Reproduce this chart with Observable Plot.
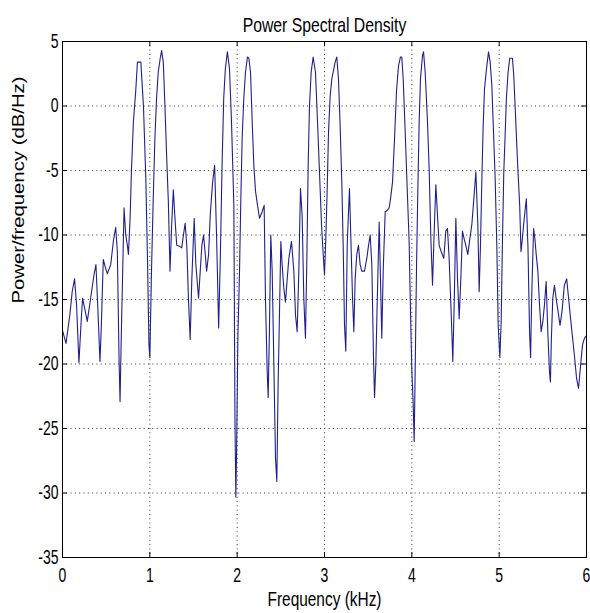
<!DOCTYPE html>
<html><head><meta charset="utf-8">
<script src="https://cdn.jsdelivr.net/npm/d3@7"></script>
<script src="https://cdn.jsdelivr.net/npm/@observablehq/plot@0.6"></script>
<style>
html,body{margin:0;padding:0;background:#fff;}
#chart{width:590px;height:613px;}
</style></head><body><div id="chart"></div>
<script>
// Frequency (kHz) of each traced vertex
const freqKHz = [
  0.000,0.040,0.084,0.111,0.138,0.161,0.188,0.215,0.230,0.284,0.322,0.360,0.383,0.406,0.429,0.444,0.467,0.494,0.513,0.552,
  0.582,0.609,0.628,0.648,0.659,0.674,0.705,0.724,0.743,0.755,0.774,0.789,0.812,0.839,0.858,0.897,0.927,0.954,0.973,0.990,
  1.000,1.019,1.038,1.058,1.077,1.096,1.119,1.135,1.154,1.173,1.192,1.212,1.231,1.250,1.269,1.288,1.308,1.346,1.365,1.385,
  1.404,1.423,1.442,1.462,1.481,1.508,1.527,1.558,1.577,1.596,1.615,1.635,1.650,1.673,1.692,1.719,1.742,1.765,1.788,1.808,
  1.827,1.846,1.865,1.888,1.912,1.935,1.962,1.975,1.985,1.995,
  2.008,2.027,2.042,2.057,2.076,2.095,2.118,2.134,2.153,2.172,2.191,2.210,2.233,2.256,2.286,2.309,2.324,2.344,2.355,2.370,
  2.385,2.401,2.420,2.439,2.454,2.469,2.485,2.500,2.515,2.534,2.553,2.573,2.592,2.622,2.649,2.668,2.687,2.706,2.725,2.744,
  2.763,2.782,2.798,2.813,2.828,2.847,2.870,2.897,2.920,2.943,2.966,2.985,
  3.000,3.015,3.031,3.046,3.065,3.084,3.107,3.122,3.141,3.160,3.179,3.198,3.214,3.229,3.244,3.260,3.275,3.286,3.302,3.321,
  3.336,3.351,3.370,3.389,3.408,3.427,3.458,3.485,3.504,3.523,3.542,3.561,3.573,3.588,3.603,3.626,3.641,3.656,3.672,3.695,
  3.718,3.740,3.756,3.779,3.802,3.824,3.847,3.870,3.885,3.901,3.924,3.947,3.969,3.985,
  4.000,4.015,4.027,4.038,4.053,4.069,4.084,4.099,4.122,4.134,4.153,4.179,4.198,4.218,4.237,4.256,4.275,4.294,4.313,4.336,
  4.366,4.389,4.408,4.427,4.447,4.458,4.469,4.485,4.504,4.523,4.542,4.561,4.580,4.599,4.618,4.641,4.664,4.687,4.710,4.733,
  4.756,4.771,4.786,4.802,4.817,4.832,4.855,4.878,4.897,4.916,4.931,4.954,4.973,4.989,
  5.008,5.023,5.038,5.053,5.068,5.083,5.102,5.121,5.152,5.167,5.189,5.212,5.235,5.250,5.265,5.280,5.295,5.311,5.330,5.348,
  5.360,5.371,5.394,5.409,5.424,5.443,5.462,5.481,5.500,5.519,5.538,5.557,5.576,5.587,5.598,5.614,5.633,5.652,5.674,5.697,
  5.720,5.746,5.773,5.795,5.818,5.841,5.864,5.886,5.909,5.932,5.955,5.977,6.000
];
// Power/frequency (dB/Hz) at each vertex
const psdDb = [
  -17.4,-18.4,-16.2,-14.4,-13.4,-15.4,-19.9,-16.5,-14.9,-16.7,-14.9,-13.1,-12.3,-15.9,-19.8,-17.2,-11.9,-12.6,-13.0,-12.3,
  -10.5,-9.4,-11.3,-19.8,-22.9,-17.5,-7.9,-10.0,-10.8,-11.5,-8.7,-5.1,-1.2,1.2,3.4,3.4,0.0,-5.6,-11.8,-18.5,
  -19.5,-12.8,-7.4,-2.5,0.6,2.6,3.7,4.3,3.4,0.0,-3.8,-7.4,-12.8,-9.2,-6.5,-8.7,-10.8,-10.9,-11.0,-10.0,
  -9.1,-10.8,-14.9,-18.1,-13.4,-8.7,-12.3,-14.9,-12.8,-10.8,-10.0,-11.5,-12.8,-11.5,-8.4,-5.9,-4.6,-10.3,-17.2,-11.5,
  -4.6,0.6,2.9,4.2,2.9,-1.2,-7.7,-24.5,-30.3,-26.0,
  -18.0,-12.8,-7.2,-2.5,0.6,2.6,3.8,3.7,2.6,-1.2,-4.6,-6.6,-7.7,-8.7,-8.2,-7.7,-14.9,-20.6,-22.6,-17.2,
  -10.0,-12.8,-20.0,-27.3,-29.1,-21.6,-15.9,-10.5,-12.3,-14.1,-15.2,-13.4,-11.8,-10.5,-12.8,-16.2,-17.5,-12.8,-6.4,-8.5,
  -14.9,-18.0,-11.8,-4.6,0.0,2.6,3.8,2.6,-1.2,-5.2,-9.2,-11.5,
  -13.1,-10.3,-6.4,-2.0,0.8,2.1,2.9,3.4,3.8,2.1,-1.5,-5.9,-10.8,-17.0,-19.0,-10.8,-8.2,-6.4,-10.3,-14.9,
  -17.5,-13.4,-11.5,-10.8,-12.3,-12.8,-12.8,-11.8,-10.8,-10.0,-12.3,-19.5,-22.6,-20.0,-15.4,-9.0,-13.4,-18.0,-12.8,-8.2,
  -8.1,-7.9,-7.2,-5.9,-2.5,1.1,3.1,3.8,3.8,2.1,-2.0,-6.4,-10.5,-16.0,
  -20.5,-23.0,-26.0,-20.6,-12.8,-6.4,-1.2,2.1,3.9,4.2,2.6,-1.2,-4.8,-10.3,-13.9,-9.7,-6.1,-8.5,-10.8,-11.3,
  -11.8,-9.7,-9.5,-11.8,-15.4,-17.5,-19.8,-15.4,-8.7,-13.4,-16.5,-13.4,-9.7,-10.3,-10.8,-11.5,-10.3,-9.2,-7.2,-5.1,
  -9.2,-14.4,-10.8,-5.6,-1.5,1.3,2.9,4.2,3.4,1.6,-1.2,-5.6,-10.8,-17.0,
  -19.5,-16.7,-10.3,-5.1,-2.3,0.6,2.6,3.7,3.7,2.4,-1.0,-4.6,-7.7,-11.3,-10.3,-9.2,-8.2,-7.2,-11.0,-17.5,
  -19.5,-15.2,-9.5,-10.3,-11.5,-12.8,-15.4,-17.5,-16.7,-15.4,-13.6,-17.5,-20.6,-21.4,-18.0,-14.9,-13.9,-14.9,-15.9,-17.0,
  -15.9,-13.9,-13.4,-14.9,-16.5,-18.0,-19.5,-21.1,-21.9,-20.1,-18.5,-18.0,-17.8
];
const xTicks = [0, 1, 2, 3, 4, 5, 6];
const yTicks = [5, 0, -5, -10, -15, -20, -25, -30, -35];
const titleText = "Power Spectral Density";
const xLabelText = "Frequency (kHz)";
const yLabelText = "Power/frequency (dB/Hz)";

const data = freqKHz.map((f, i) => ({f, p: psdDb[i]}));
const W = 590, H = 613, mL = 62, mR = 4, mT = 41, mB = 56;
const fw = W - mL - mR, fh = H - mT - mB;
const font = "'Liberation Sans', Arial, sans-serif";

const svg = Plot.plot({
  width: W, height: H,
  marginLeft: mL, marginRight: mR, marginTop: mT, marginBottom: mB,
  style: {background: "#fff", fontFamily: font, fontSize: "20px", color: "#000"},
  x: {domain: [0, 6], ticks: xTicks, tickSize: 0, tickPadding: 10, label: null, tickFormat: d => String(d)},
  y: {domain: [-35, 5], ticks: yTicks, tickSize: 0, tickPadding: 4, label: null, tickFormat: d => String(d)},
  marks: [
    Plot.ruleX(xTicks.slice(1, -1), {x: d => d, stroke: "#333", strokeDasharray: "1,3.3"}),
    Plot.ruleY(yTicks.slice(1, -1), {y: d => d, stroke: "#333", strokeDasharray: "1,3.3"}),
    Plot.line(data, {x: "f", y: "p", stroke: "#20208c", strokeWidth: 1.1}),
    Plot.ruleX(xTicks, {x: d => d, insetTop: fh - 5, stroke: "#000"}),
    Plot.ruleX(xTicks, {x: d => d, insetBottom: fh - 5, stroke: "#000"}),
    Plot.ruleY(yTicks, {y: d => d, insetRight: fw - 5, stroke: "#000"}),
    Plot.ruleY(yTicks, {y: d => d, insetLeft: fw - 5, stroke: "#000"}),
    Plot.frame({stroke: "#000"}),
    Plot.text([titleText], {text: d => d, frameAnchor: "top", lineAnchor: "middle", dy: -16, fontSize: 21, fill: "#000"}),
    Plot.text([xLabelText], {text: d => d, frameAnchor: "bottom", lineAnchor: "middle", dy: 42, fontSize: 20, fill: "#000"}),
    Plot.text([yLabelText], {text: d => d, frameAnchor: "left", lineAnchor: "middle", dx: -44, dy: 4, rotate: -90, fontSize: 16, fill: "#000"})
  ]
});
document.getElementById("chart").appendChild(svg);

// Mimic the vertically stretched glyphs of the reference
d3.select(svg).selectAll("text").each(function () {
  const txt = this.textContent;
  const len = this.getComputedTextLength();
  if (txt === yLabelText) {
    this.setAttribute("textLength", 227);
  } else if (txt === titleText) {
    this.setAttribute("textLength", (len * 0.75).toFixed(1));
  } else if (txt === xLabelText) {
    this.setAttribute("textLength", 114);
  } else {
    this.setAttribute("textLength", (len * 0.70).toFixed(1));
  }
  this.setAttribute("lengthAdjust", "spacingAndGlyphs");
});
</script>
</body></html>
